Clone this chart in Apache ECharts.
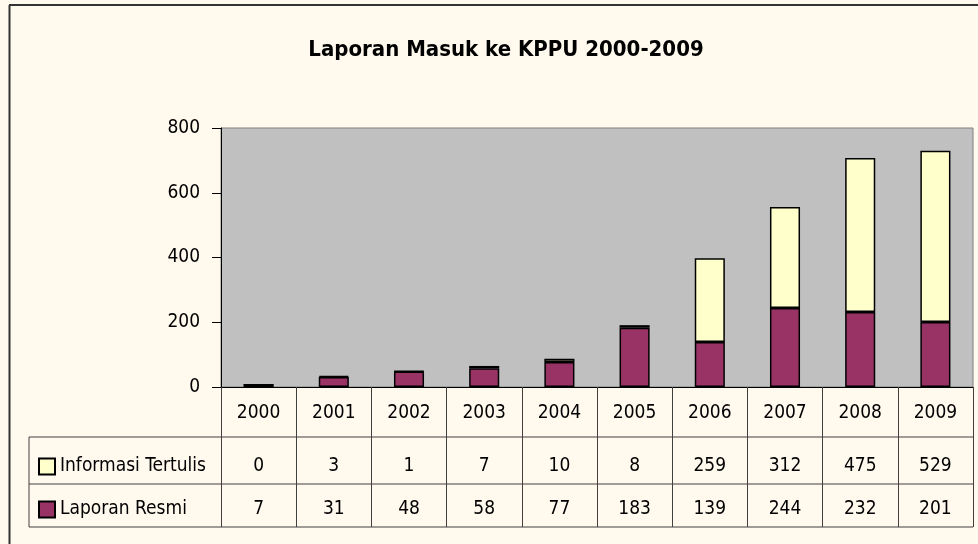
<!DOCTYPE html>
<html>
<head>
<meta charset="utf-8">
<script src="https://cdn.jsdelivr.net/npm/echarts@6/dist/echarts.min.js"></script>
<style>
  html, body { margin: 0; padding: 0; background: #FFF9EE; }
  #chart { width: 978px; height: 544px; }
</style>
</head>
<body>
<div id="chart"></div>
<script>
// data
const years = ['2000', '2001', '2002', '2003', '2004', '2005', '2006', '2007', '2008', '2009'];
const informasiTertulis = [0, 3, 1, 7, 10, 8, 259, 312, 475, 529];
const laporanResmi = [7, 31, 48, 58, 77, 183, 139, 244, 232, 201];
const yTicks = [0, 200, 400, 600, 800];

const font = "'Liberation Sans Narrow', 'DejaVu Sans Condensed', 'Arial Narrow', sans-serif";
const lineColor = '#404040';
const fs = 19;

const chart = echarts.init(document.getElementById('chart'));

// plot area box (pixels)
const gridLeft = 221, gridRight = 973, gridTop = 128, gridBottom = 387;
// data table rows below the axis
const row1 = 437, row2 = 484, row3 = 527, tableLeft = 29;

const tableLine = (x1, y1, x2, y2) => ({
  type: 'line',
  silent: true,
  shape: { x1: x1, y1: y1, x2: x2, y2: y2 },
  style: { stroke: lineColor, lineWidth: 1 }
});

const legendBox = (name, top) => ({
  data: [name],
  orient: 'vertical',
  left: 38,
  top: top,
  padding: 0,
  icon: 'rect',
  itemWidth: 16,
  itemHeight: 16,
  textStyle: { fontFamily: font, fontSize: fs, color: '#000' }
});

const option = {
  backgroundColor: '#FFF9EE',
  animation: false,
  textStyle: { fontFamily: font, color: '#000' },
  title: {
    text: 'Laporan Masuk ke KPPU 2000-2009',
    left: 501,
    top: 34,
    textAlign: 'center',
    textStyle: { fontFamily: font, fontSize: 22, fontWeight: 'bold', color: '#000' }
  },
  legend: [
    legendBox('Informasi Tertulis', 457),
    legendBox('Laporan Resmi', 500)
  ],
  grid: {
    left: gridLeft,
    right: 978 - gridRight,
    top: gridTop,
    bottom: 544 - gridBottom,
    show: true,
    backgroundColor: '#C0C0C0',
    borderColor: '#808080',
    borderWidth: 1
  },
  xAxis: [
    {
      type: 'category',
      data: years,
      axisLine: { lineStyle: { color: '#000', width: 1 } },
      axisTick: { show: true, length: row3 - gridBottom, lineStyle: { color: lineColor } },
      axisLabel: { margin: 26, verticalAlign: 'middle', fontSize: fs, color: '#000' }
    },
    {
      type: 'category',
      data: years,
      position: 'bottom',
      axisLine: { show: false },
      axisTick: { show: false },
      axisLabel: {
        margin: 79, verticalAlign: 'middle', fontSize: fs, color: '#000',
        formatter: (v, i) => String(informasiTertulis[i])
      }
    },
    {
      type: 'category',
      data: years,
      position: 'bottom',
      axisLine: { show: false },
      axisTick: { show: false },
      axisLabel: {
        margin: 122, verticalAlign: 'middle', fontSize: fs, color: '#000',
        formatter: (v, i) => String(laporanResmi[i])
      }
    }
  ],
  yAxis: {
    type: 'value',
    min: yTicks[0],
    max: yTicks[yTicks.length - 1],
    interval: 200,
    axisLine: { show: true, lineStyle: { color: '#000', width: 1 } },
    axisTick: { show: true, length: 9, lineStyle: { color: '#000' } },
    axisLabel: { margin: 21, fontSize: fs, color: '#000' },
    splitLine: { show: false }
  },
  series: [
    {
      name: 'Laporan Resmi',
      type: 'bar',
      stack: 'total',
      data: laporanResmi,
      barWidth: '40%',
      itemStyle: { color: '#993366', borderColor: '#000', borderWidth: 1.5 }
    },
    {
      name: 'Informasi Tertulis',
      type: 'bar',
      stack: 'total',
      data: informasiTertulis,
      barWidth: '40%',
      itemStyle: { color: '#FFFFCC', borderColor: '#000', borderWidth: 1.5 }
    }
  ],
  graphic: [
    // outer frame (left and top edges only visible)
    tableLine(9.5, 5, 9.5, 544),
    tableLine(9, 5, 978, 5),
    // data table rules
    tableLine(tableLeft, row1, gridRight, row1),
    tableLine(tableLeft, row2, gridRight, row2),
    tableLine(tableLeft, row3, gridRight, row3),
    tableLine(tableLeft, row1, tableLeft, row3)
  ]
};
option.graphic[0].style = { stroke: '#333', lineWidth: 2 };
option.graphic[1].style = { stroke: '#333', lineWidth: 2 };

chart.setOption(option);
</script>
</body>
</html>
